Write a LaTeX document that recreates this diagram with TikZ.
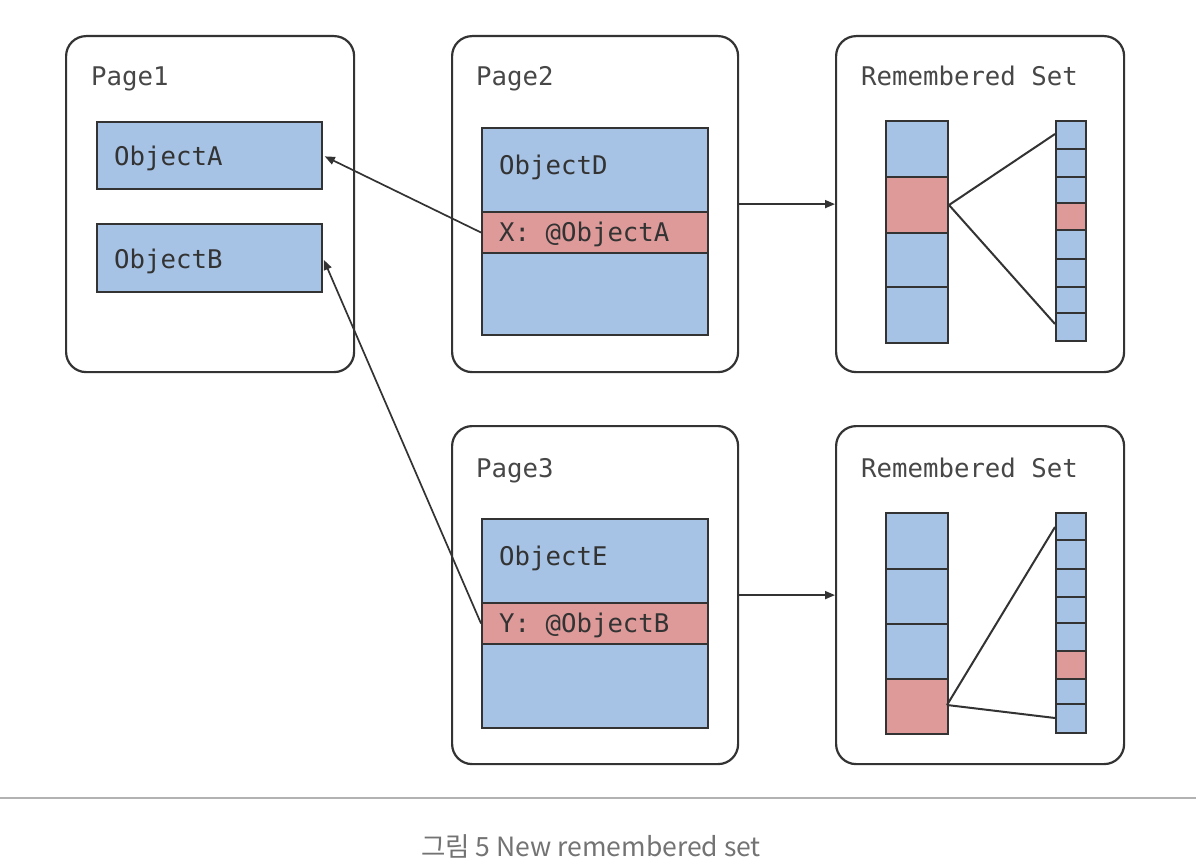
\documentclass[tikz,border=0pt]{standalone}
\usepackage{fontspec}
\setmonofont{DejaVu Sans Mono}
\newfontfamily\cjk{Noto Sans CJK KR}
\usetikzlibrary{arrows.meta}
\definecolor{objblue}{HTML}{A6C3E5}
\definecolor{objred}{HTML}{DE9A99}
\definecolor{edge}{HTML}{333333}
\tikzset{
  pagebox/.style={draw=edge, line width=2.2pt, rounded corners=20pt, fill=white, anchor=north west, inner sep=0pt},
  bluecell/.style={draw=edge, line width=2pt, fill=objblue, anchor=north west, inner sep=0pt},
  redcell/.style={draw=edge, line width=2pt, fill=objred, anchor=north west, inner sep=0pt},
  title/.style={anchor=base west, inner sep=0pt, font=\ttfamily\fontsize{25.7}{30}\selectfont, text=edge!90},
  objtext/.style={anchor=base west, inner sep=0pt, font=\ttfamily\fontsize{25.7}{30}\selectfont, text=edge},
  arr/.style={draw=edge, line width=1.7pt, -{Triangle[length=10pt,width=8pt]}},
  link/.style={draw=edge, line width=2pt},
}
\begin{document}
\begin{tikzpicture}[x=1pt,y=-1pt]
\useasboundingbox (0,0) rectangle (1196,864);
% pages
\node[pagebox, minimum width=288pt, minimum height=336pt] (p1) at (65,35) {};
\node[pagebox, minimum width=286pt, minimum height=336pt] (p2) at (451,35) {};
\node[pagebox, minimum width=288pt, minimum height=336pt] (r1) at (835,35) {};
\node[pagebox, minimum width=286pt, minimum height=338pt] (p3) at (451,425) {};
\node[pagebox, minimum width=288pt, minimum height=338pt] (r2) at (835,425) {};
\node[title] (t1) at (91,86) {Page1};
\node[title] (t2) at (476,86) {Page2};
\node[title] (t3) at (861,86) {Remembered Set};
\node[title] (t4) at (476,477) {Page3};
\node[title] (t5) at (861,477) {Remembered Set};
% page1 objects
\node[bluecell, minimum width=225pt, minimum height=67pt] (oa) at (96,121) {};
\node[bluecell, minimum width=225pt, minimum height=68pt] (ob) at (96,223) {};
\node[objtext] (ta) at (114,165) {ObjectA};
\node[objtext] (tb) at (114,268) {ObjectB};
% page2 object
\node[bluecell, minimum width=226pt, minimum height=207pt] (od) at (481,127) {};
\node[redcell, minimum width=226pt, minimum height=41pt] (xd) at (481,211) {};
\node[objtext] (td) at (499,174) {ObjectD};
\node[objtext] (tx) at (499,241) {X: @ObjectA};
% page3 object
\node[bluecell, minimum width=226pt, minimum height=209pt] (oe) at (481,518) {};
\node[redcell, minimum width=226pt, minimum height=41pt] (ye) at (481,602) {};
\node[objtext] (te) at (499,565) {ObjectE};
\node[objtext] (ty) at (499,632) {Y: @ObjectB};
% remembered set 1, left column
\node[bluecell, minimum width=62pt, minimum height=56pt] (a1) at (885,120) {};
\node[redcell,  minimum width=62pt, minimum height=56pt] (a2) at (885,176) {};
\node[bluecell, minimum width=62pt, minimum height=54pt] (a3) at (885,232) {};
\node[bluecell, minimum width=62pt, minimum height=56pt] (a4) at (885,286) {};
% remembered set 1, right column
\node[bluecell, minimum width=30pt, minimum height=28pt] (b1) at (1055,120) {};
\node[bluecell, minimum width=30pt, minimum height=28pt] (b2) at (1055,148) {};
\node[bluecell, minimum width=30pt, minimum height=26pt] (b3) at (1055,176) {};
\node[redcell,  minimum width=30pt, minimum height=27pt] (b4) at (1055,202) {};
\node[bluecell, minimum width=30pt, minimum height=29pt] (b5) at (1055,229) {};
\node[bluecell, minimum width=30pt, minimum height=28pt] (b6) at (1055,258) {};
\node[bluecell, minimum width=30pt, minimum height=26pt] (b7) at (1055,286) {};
\node[bluecell, minimum width=30pt, minimum height=28pt] (b8) at (1055,312) {};
\coordinate (b1l) at (1055,134);
\coordinate (b8l) at (1055,324);
\draw[link] (a2.east) -- (b1l);
\draw[link] (a2.east) -- (b8l);
% remembered set 2, left column
\node[bluecell, minimum width=62pt, minimum height=56pt] (c1) at (885,512) {};
\node[bluecell, minimum width=62pt, minimum height=55pt] (c2) at (885,568) {};
\node[bluecell, minimum width=62pt, minimum height=55pt] (c3) at (885,623) {};
\node[redcell,  minimum width=62pt, minimum height=55pt] (c4) at (885,678) {};
% remembered set 2, right column
\node[bluecell, minimum width=30pt, minimum height=27pt] (d1) at (1055,512) {};
\node[bluecell, minimum width=30pt, minimum height=29pt] (d2) at (1055,539) {};
\node[bluecell, minimum width=30pt, minimum height=28pt] (d3) at (1055,568) {};
\node[bluecell, minimum width=30pt, minimum height=26pt] (d4) at (1055,596) {};
\node[bluecell, minimum width=30pt, minimum height=28pt] (d5) at (1055,622) {};
\node[redcell,  minimum width=30pt, minimum height=28pt] (d6) at (1055,650) {};
\node[bluecell, minimum width=30pt, minimum height=25pt] (d7) at (1055,678) {};
\node[bluecell, minimum width=30pt, minimum height=29pt] (d8) at (1055,703) {};
\coordinate (c4r) at (947,705);
\coordinate (d1l) at (1055,527);
\coordinate (d8l) at (1055,718);
\draw[link] (c4r) -- (d1l);
\draw[link] (c4r) -- (d8l);
% arrows
\draw[arr, shorten >=2pt] (xd.west) -- (oa.east);
\draw[arr, shorten >=2pt] (ye.west) -- (ob.east);
\draw[arr] (p2.east) -- (r1.west);
\draw[arr] (p3.east) -- (r2.west);
% caption
\coordinate (sl) at (0,798);
\coordinate (sr) at (1196,798);
\draw[line width=2pt, draw=black!30] (sl) -- (sr);
\node[anchor=base, inner sep=0pt, text=black!55, font=\cjk\fontsize{26.5}{30}\selectfont] (cap) at (591,856) {그림 5 New remembered set};
\end{tikzpicture}
\end{document}
